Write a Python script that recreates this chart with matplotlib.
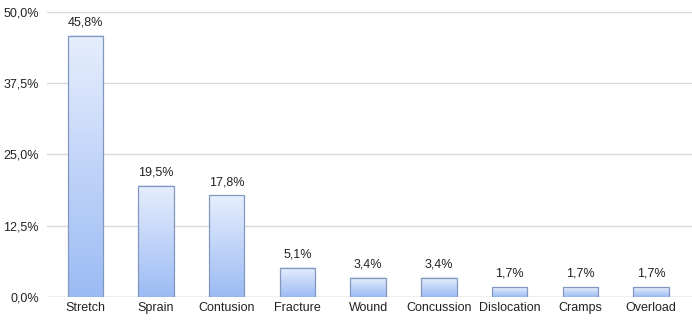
import numpy as np
import matplotlib.pyplot as plt
from matplotlib.colors import LinearSegmentedColormap

categories = ["Stretch", "Sprain", "Contusion", "Fracture", "Wound",
              "Concussion", "Dislocation", "Cramps", "Overload"]
values = [45.8, 19.5, 17.8, 5.1, 3.4, 3.4, 1.7, 1.7, 1.7]
yticks = [0, 12.5, 25, 37.5, 50]

plt.rcParams['font.family'] = ['Liberation Sans', 'DejaVu Sans']

fig = plt.figure(figsize=(6.92, 3.21), dpi=100)
ax = fig.add_axes([0.068, 0.075, 0.932, 0.888])

x = np.arange(len(categories))
bars = ax.bar(x, values, width=0.5, color='none', edgecolor='#8298be',
              linewidth=0.9, zorder=3)

cmap = LinearSegmentedColormap.from_list('g', ['#9cbbf4', '#e6eefd'])
grad = np.linspace(0, 1, 256).reshape(-1, 1)
for b in bars:
    x0, y0 = b.get_x(), b.get_y()
    ax.imshow(grad, cmap=cmap, origin='lower', aspect='auto', zorder=2,
              extent=[x0, x0 + b.get_width(), y0, y0 + b.get_height()])

for xi, v in zip(x, values):
    ax.text(xi, v + 1.3, f"{v:.1f}%".replace('.', ','), ha='center',
            va='bottom', fontsize=9, color='#222222')

ax.set_xlim(-0.54, 8.58)
ax.set_ylim(0, 50)
ax.set_yticks(yticks)
ax.set_yticklabels([f"{t:.1f}%".replace('.', ',') for t in yticks])
ax.set_xticks(x)
ax.set_xticklabels(categories)
ax.tick_params(axis='both', length=0, labelsize=9, colors='#222222')
ax.tick_params(axis='y', pad=6)
ax.tick_params(axis='x', pad=4)
ax.yaxis.grid(True, color='#d9d9d9', linewidth=1, zorder=0)
for s in ax.spines.values():
    s.set_visible(False)
ax.axhline(0, color='#d0d0d0', linewidth=1, zorder=1)

fig.savefig('out.png', dpi=100)
